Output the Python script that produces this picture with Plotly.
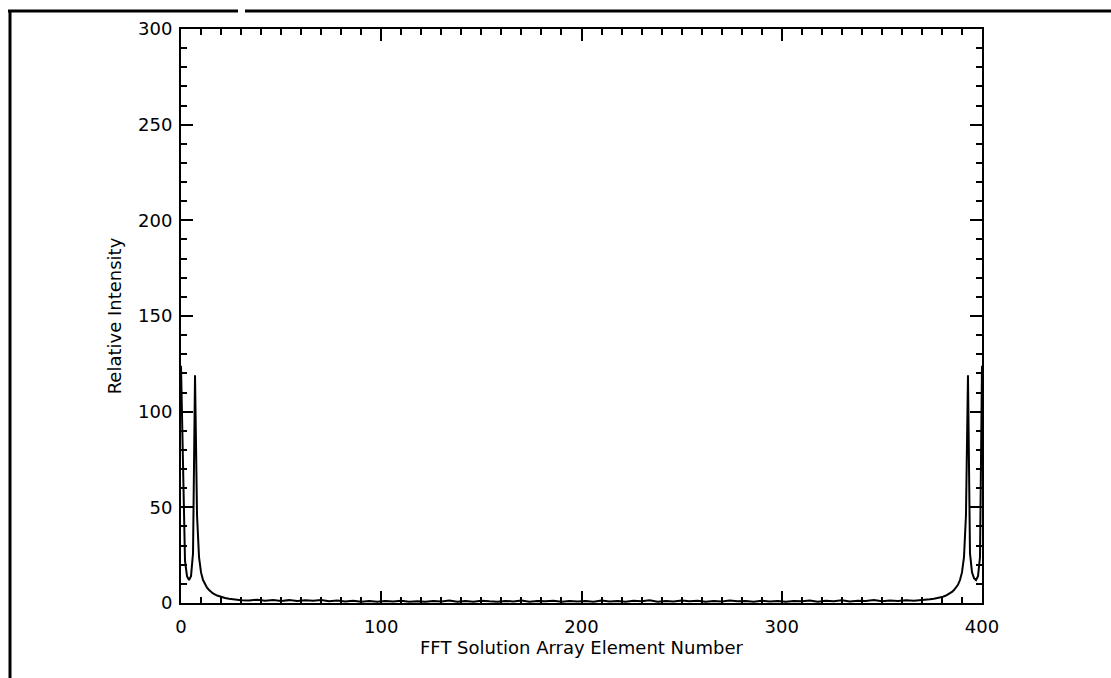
import plotly.graph_objects as go

# FFT magnitude spectrum: element number vs relative intensity
elem_lo = [0, 1, 2, 3, 4, 5, 6, 7, 8, 9, 10, 11, 12, 13, 14, 15, 16, 18, 20, 22, 24, 26, 28]
inten_lo = [124, 70, 22, 14, 12, 14, 26, 119, 46, 24, 16, 12, 9.5, 8, 6.8, 5.8, 5, 3.9, 3.1, 2.6, 2.2, 1.9, 1.6]

elem_mid = [30, 34, 38, 42, 46, 50, 54, 58, 62, 66, 70, 74, 78, 82, 86, 90, 94, 98,
            102, 106, 110, 114, 118, 122, 126, 130, 134, 138, 142, 146, 150, 154, 158,
            162, 166, 170, 174, 178, 182, 186, 190, 194, 198, 202, 206, 210, 214, 218,
            222, 226, 230, 234, 238, 242, 246, 250, 254, 258, 262, 266, 270, 274, 278,
            282, 286, 290, 294, 298, 302, 306, 310, 314, 318, 322, 326, 330, 334, 338,
            342, 346, 350, 354, 358, 362, 366, 370]
inten_mid = [1.5, 1.3, 1.7, 1.2, 1.6, 1.1, 1.5, 1.0, 1.4, 1.2, 1.6, 0.9, 1.3, 0.8, 1.2, 0.7, 1.1, 0.6,
             1.0, 0.8, 1.2, 0.7, 0.9, 0.6, 1.1, 0.8, 1.3, 0.7, 1.0, 0.6, 1.2, 0.9, 0.7,
             1.1, 0.8, 1.3, 0.7, 1.0, 0.9, 1.2, 0.6, 1.0, 0.8, 1.1, 0.7, 1.3, 0.8, 1.0,
             0.6, 1.2, 0.9, 1.4, 0.7, 1.1, 0.8, 1.3, 0.9, 1.2, 0.7, 1.0, 0.8, 1.3, 0.9,
             1.1, 0.7, 1.2, 0.8, 1.0, 0.6, 1.1, 0.9, 1.3, 0.7, 1.2, 0.9, 1.4, 0.8, 1.2,
             1.0, 1.5, 0.9, 1.3, 1.1, 1.5, 1.2, 1.6]

elem_hi = [372, 374, 376, 378, 380, 382, 384, 385, 386, 387, 388, 389, 390, 391, 392,
           393, 394, 395, 396, 397, 398, 399, 400]
inten_hi = [1.6, 1.9, 2.2, 2.6, 3.1, 3.9, 5, 5.8, 6.8, 8, 9.5, 12, 16, 24, 46,
            119, 26, 16, 13, 12, 14, 24, 124]

x_ticks = [0, 100, 200, 300, 400]
y_ticks = [0, 50, 100, 150, 200, 250, 300]

elements = elem_lo + elem_mid + elem_hi
intensity = inten_lo + inten_mid + inten_hi

W, H = 1111, 678
L, R, T, B = 181, 129, 29, 75
PW, PH = W - L - R, H - T - B


def px(x):
    return (x - L) / PW


def py(y):
    return (H - B - y) / PH


fig = go.Figure()
fig.add_trace(go.Scatter(
    x=elements, y=intensity, mode="lines",
    line=dict(color="black", width=2),
    hoverinfo="skip", showlegend=False,
))

font = dict(family="DejaVu Sans, Arial, sans-serif", color="black")

axis_common = dict(
    showgrid=False, zeroline=False,
    showline=True, linecolor="black", linewidth=2, mirror="ticks",
    ticks="inside", ticklen=12, tickwidth=1.5, tickcolor="black",
    tickfont=dict(size=18, **font),
)

fig.update_xaxes(
    range=[0, 400], tickvals=x_ticks, ticktext=[str(v) for v in x_ticks],
    minor=dict(dtick=10, ticks="inside", ticklen=6, tickwidth=1.5, tickcolor="black"),
    ticklabelstandoff=6,
    **axis_common,
)
fig.update_yaxes(
    range=[0, 300], tickvals=y_ticks, ticktext=[str(v) for v in y_ticks],
    minor=dict(dtick=10, ticks="inside", ticklen=6, tickwidth=1.5, tickcolor="black"),
    ticklabelstandoff=3,
    title=dict(text="Relative Intensity", font=dict(size=18, **font), standoff=12),
    **axis_common,
)

# x-axis title sits just under the tick labels
fig.add_annotation(
    text="FFT Solution Array Element Number", xref="paper", yref="paper",
    x=0.5, y=py(647), xanchor="center", yanchor="middle", showarrow=False,
    font=dict(size=18, **font),
)

# outer page frame: top rule (with a small break) and left rule
frame = dict(type="line", xref="paper", yref="paper", line=dict(color="black", width=3))
fig.add_shape(x0=px(8), x1=px(238), y0=py(11), y1=py(11), **frame)
fig.add_shape(x0=px(245), x1=px(1111), y0=py(11), y1=py(11), **frame)
fig.add_shape(x0=px(10), x1=px(10), y0=py(10), y1=py(678), **frame)

fig.update_layout(
    width=W, height=H,
    margin=dict(l=L, r=R, t=T, b=B),
    paper_bgcolor="white", plot_bgcolor="white",
    font=font,
)

fig.write_html("out.html")
